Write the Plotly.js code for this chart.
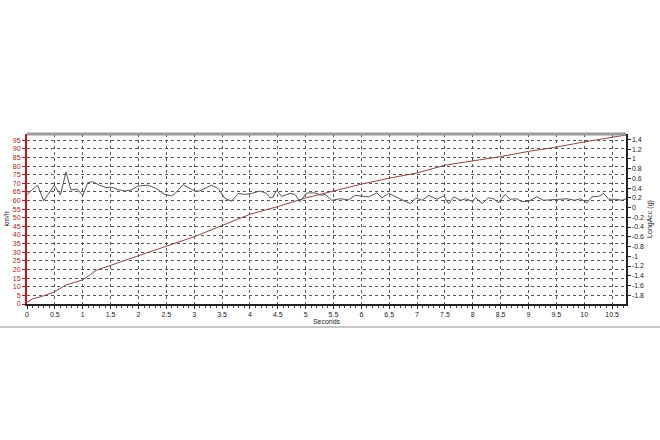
<!DOCTYPE html>
<html>
<head>
<meta charset="utf-8">
<script src="https://cdn.plot.ly/plotly-3.0.1.min.js"></script>
<style>html,body{margin:0;padding:0;background:#fff;}#chart{width:660px;height:440px;}</style>
</head>
<body>
<div id="chart"></div>
<script>
// Speed (km/h) vs time (s)
const speedTime = [0,0.1,0.28,0.49,0.7,1.0,1.24,1.66,2,2.5,3,3.5,4,4.5,5,5.5,6,6.5,7,7.5,8,8.5,9,9.5,10,10.5,10.75];
const speedKmh = [1,3,4.5,7,11,14,19.5,24.4,28,33.5,39,45.5,52,56.5,61.5,65.5,69.5,73,76,80.5,83,85.5,88.5,91,94,96.5,98];

// Longitudinal acceleration (g) vs time (s)
const accTime = [0,0.19,0.30,0.49,0.60,0.70,0.79,0.90,1.0,1.09,
  1.18,1.30,1.42,1.51,1.63,1.75,1.87,1.99,2.17,2.32,
  2.47,2.59,2.65,2.80,3.01,3.10,3.31,3.43,3.55,3.67,
  3.79,3.91,4.03,4.18,4.30,4.36,4.42,4.48,4.57,4.72,
  4.81,4.90,5.02,5.17,5.29,5.35,5.47,5.62,5.77,5.89,
  6.13,6.28,6.37,6.49,6.88,6.98,7.09,7.21,7.36,7.48,
  7.57,7.66,7.78,7.87,7.99,8.05,8.17,8.28,8.37,8.46,
  8.58,8.67,8.79,8.88,9.00,9.15,9.27,9.39,9.54,9.69,
  9.83,9.93,10.05,10.14,10.26,10.35,10.44,10.56,10.68,10.75];
const accG = [0.27,0.46,0.14,0.46,0.26,0.73,0.36,0.38,0.25,0.51,
  0.53,0.46,0.41,0.42,0.37,0.34,0.36,0.44,0.46,0.39,
  0.27,0.24,0.28,0.47,0.34,0.34,0.46,0.39,0.19,0.13,
  0.29,0.27,0.29,0.34,0.29,0.20,0.22,0.36,0.23,0.29,
  0.27,0.12,0.30,0.30,0.25,0.27,0.15,0.18,0.16,0.25,
  0.22,0.30,0.20,0.29,0.08,0.20,0.15,0.25,0.17,0.24,
  0.08,0.22,0.15,0.18,0.13,0.20,0.08,0.20,0.18,0.10,
  0.27,0.17,0.18,0.12,0.13,0.22,0.15,0.16,0.18,0.18,
  0.15,0.18,0.10,0.22,0.23,0.29,0.17,0.17,0.15,0.18];

// Tick labels
const xTickVals = [0,0.5,1,1.5,2,2.5,3,3.5,4,4.5,5,5.5,6,6.5,7,7.5,8,8.5,9,9.5,10,10.5];
const xTickText = ["0","0.5","1","1.5","2","2.5","3","3.5","4","4.5","5","5.5","6","6.5","7","7.5","8","8.5","9","9.5","10","10.5"];
const speedTickVals = [0,5,10,15,20,25,30,35,40,45,50,55,60,65,70,75,80,85,90,95];
const accTickVals = [1.4,1.2,1,0.8,0.6,0.4,0.2,0,-0.2,-0.4,-0.6,-0.8,-1,-1.2,-1.4,-1.6,-1.8];
const accTickText = ["1.4","1.2","1","0.8","0.6","0.4","0.2","0","-0.2","-0.4","-0.6","-0.8","-1","-1.2","-1.4","-1.6","-1.8"];

const font = {family: "Liberation Sans, Arial, sans-serif", size: 7, color: "#222"};

const traces = [
  {x: speedTime, y: speedKmh, type: "scatter", mode: "lines", yaxis: "y",
   line: {color: "#8a4848", width: 1}, hoverinfo: "skip"},
  {x: accTime, y: accG, type: "scatter", mode: "lines", yaxis: "y2",
   line: {color: "#555555", width: 1}, hoverinfo: "skip"}
];

const layout = {
  width: 660, height: 440,
  margin: {l: 27, r: 34, t: 134, b: 136, pad: 0},
  paper_bgcolor: "#ffffff", plot_bgcolor: "#ffffff",
  showlegend: false,
  font: font,
  xaxis: {
    range: [0, 10.75], tickmode: "array", tickvals: xTickVals, ticktext: xTickText,
    showgrid: true, gridcolor: "#555", griddash: "dot", gridwidth: 1,
    zeroline: false, showline: true, linecolor: "#222", linewidth: 2,
    ticks: "outside", ticklen: 3, tickcolor: "#222",
    minor: {dtick: 0.1, ticks: "outside", ticklen: 2, tickcolor: "#444", showgrid: false},
    tickfont: font,
    title: {text: "Seconds", font: font, standoff: 2}
  },
  yaxis: {
    range: [0, 98.6], tickmode: "array", tickvals: speedTickVals,
    showgrid: true, gridcolor: "#555", griddash: "dot", gridwidth: 1,
    zeroline: false, showline: true, linecolor: "#c01818", linewidth: 2,
    ticks: "outside", ticklen: 3, tickcolor: "#c01818",
    tickfont: {family: font.family, size: 7, color: "#b02020"},
    title: {text: "km/h", font: font, standoff: 2}
  },
  yaxis2: {
    overlaying: "y", side: "right",
    range: [-1.98, 1.51], tickmode: "array", tickvals: accTickVals, ticktext: accTickText,
    showgrid: false, zeroline: false, showline: true, linecolor: "#222", linewidth: 1.5,
    ticks: "outside", ticklen: 3, tickcolor: "#222",
    tickfont: font,
    title: {text: "LongAcc (g)", font: font, standoff: 4}
  },
  shapes: [
    {type: "line", xref: "paper", yref: "paper", x0: 0, x1: 1, y0: 1, y1: 1,
     line: {color: "#9a9a9a", width: 3}},
    {type: "line", xref: "paper", yref: "paper", x0: -0.05, x1: 1.06, y0: -0.135, y1: -0.135,
     line: {color: "#c8c8c8", width: 2}}
  ]
};

Plotly.newPlot("chart", traces, layout, {staticPlot: true, displayModeBar: false});
</script>
</body>
</html>
